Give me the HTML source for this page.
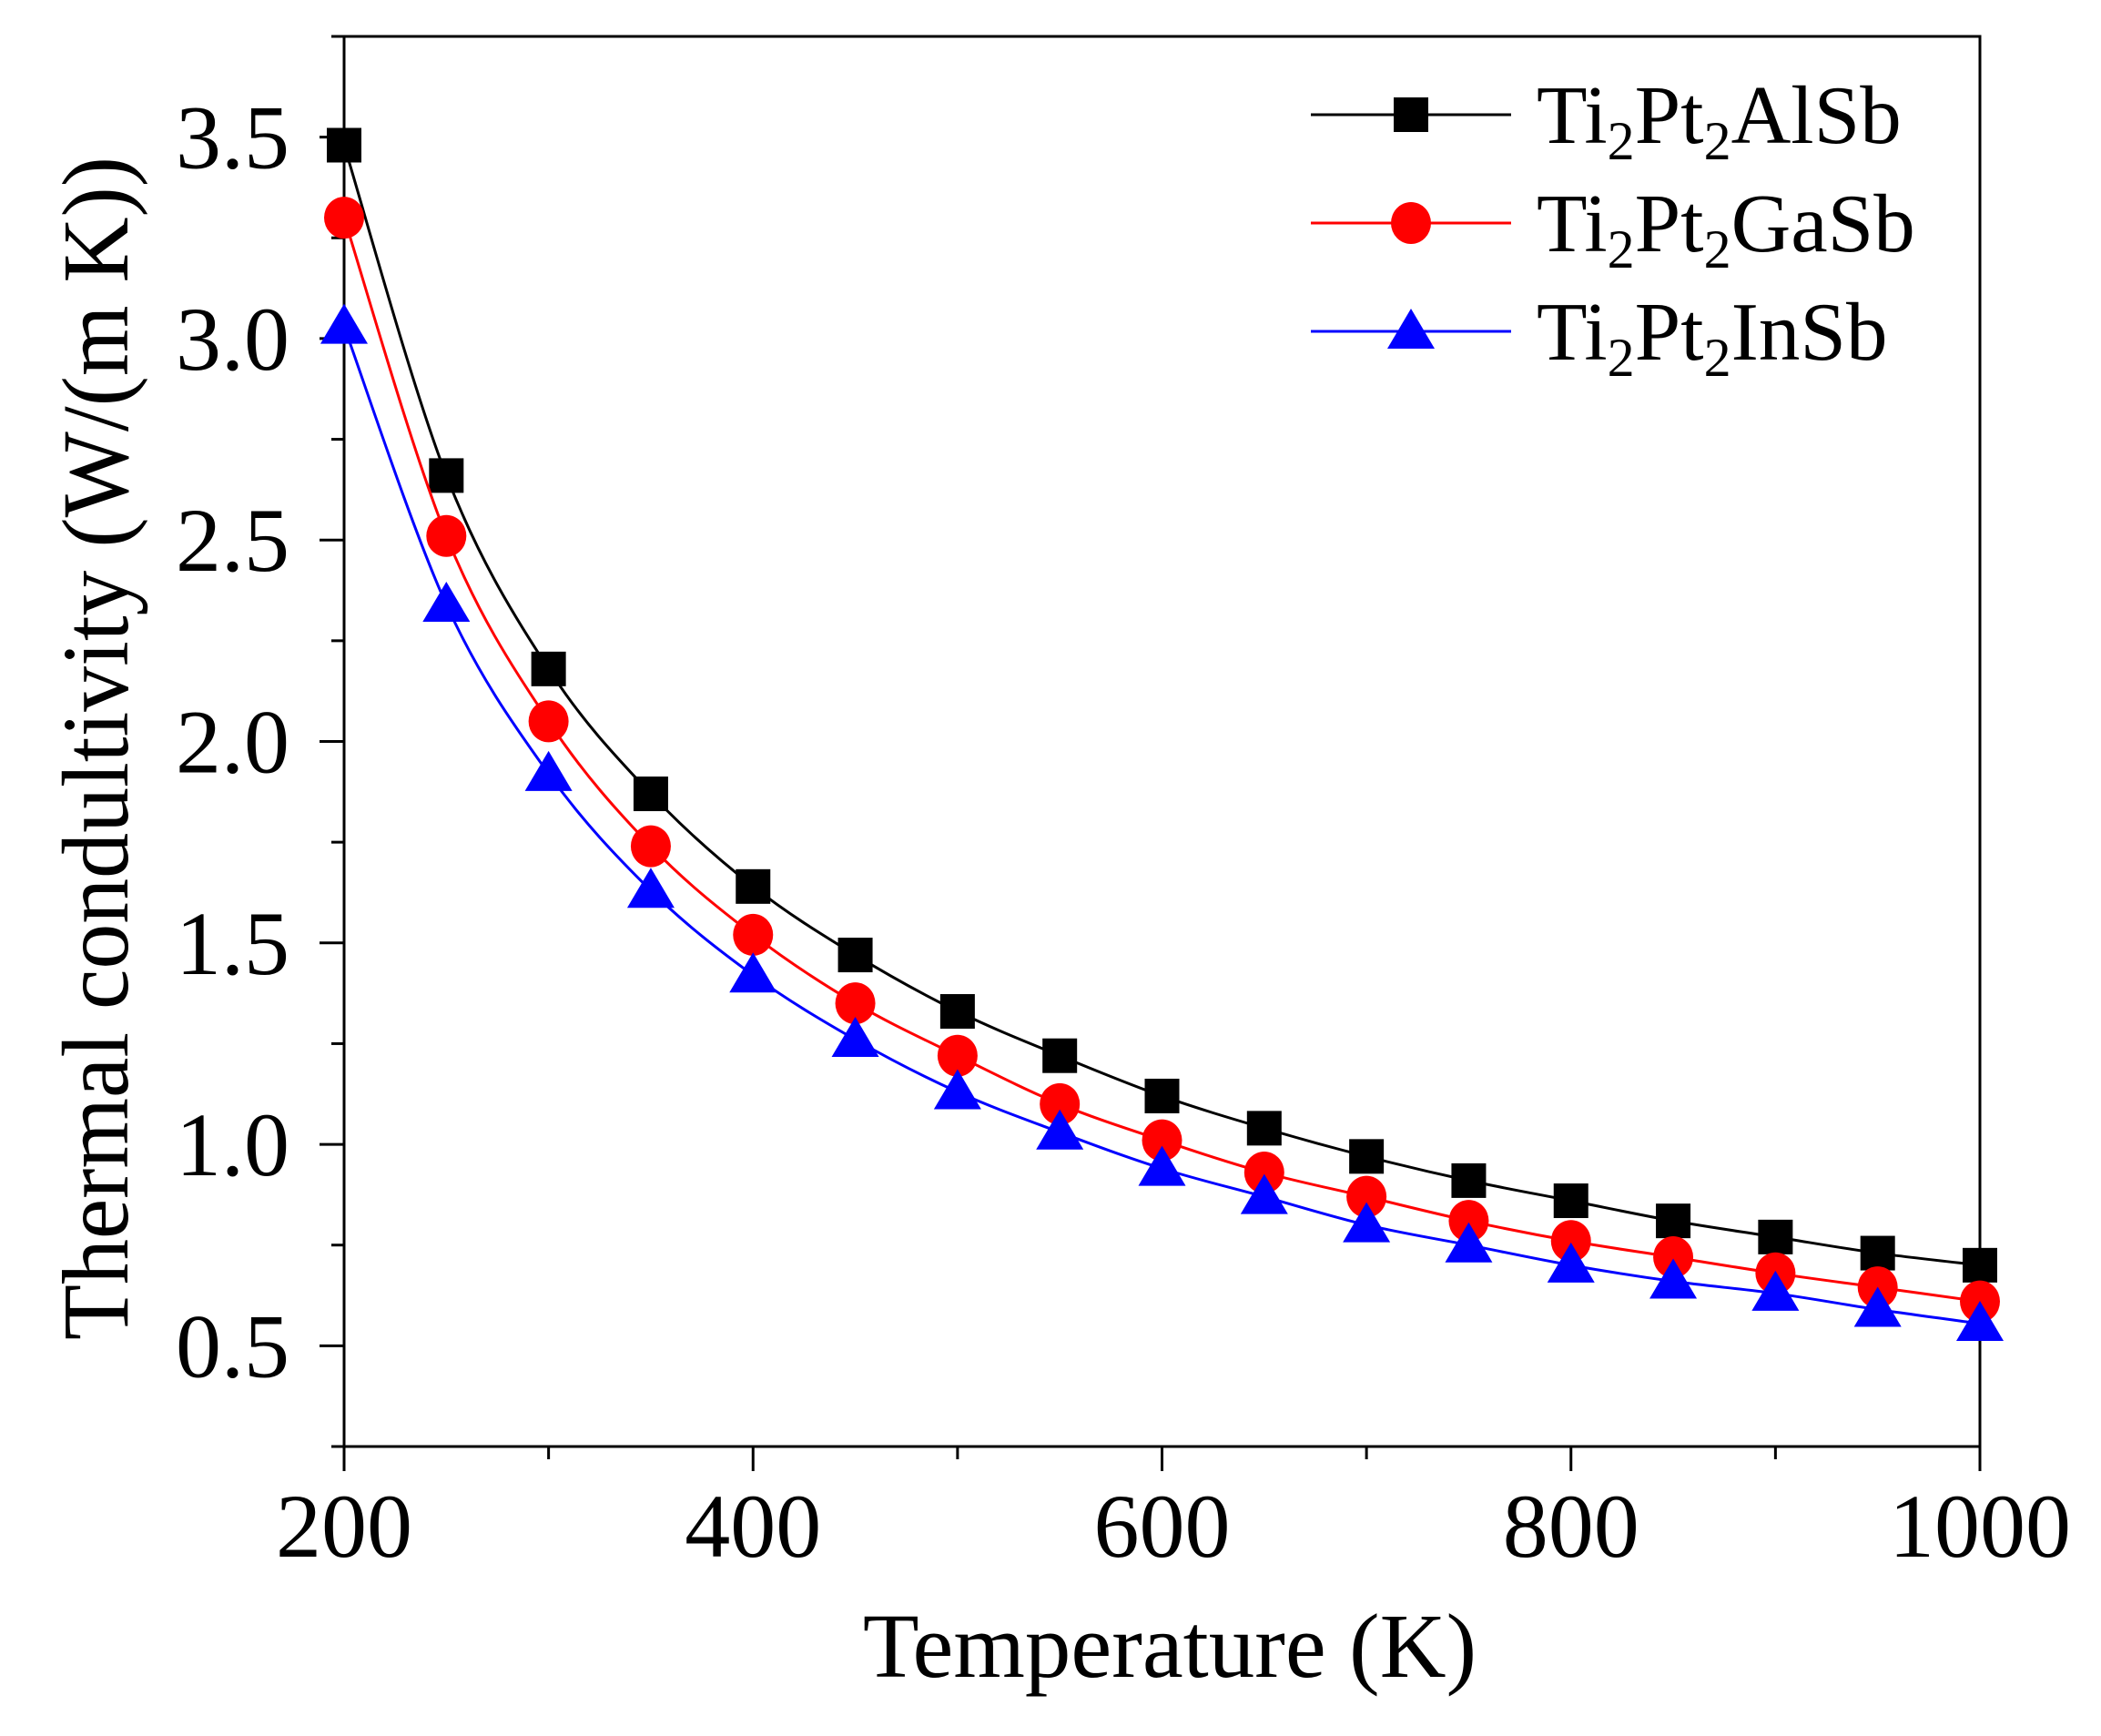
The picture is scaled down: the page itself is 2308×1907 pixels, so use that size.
<!DOCTYPE html>
<html><head><meta charset="utf-8"><style>
html,body{margin:0;padding:0;background:#fff;}
svg{display:block;font-family:"Liberation Serif","Times New Roman",serif;}
</style></head><body>
<svg id="chart" width="2308" height="1907" viewBox="0 0 2308 1907" xmlns="http://www.w3.org/2000/svg">
<rect width="2308" height="1907" fill="#fff"/>
<g id="axes"></g>
<g id="series"></g>
<g id="legend"></g>
<text x="1285" y="1842" font-size="101" text-anchor="middle">Temperature (K)</text>
<text transform="translate(140,822) rotate(-90)" font-size="104" text-anchor="middle" textLength="1300" lengthAdjust="spacingAndGlyphs">Thermal condultivity (W/(m K))</text>
</svg>
<script>
const temps = [200,250,300,350,400,450,500,550,600,650,700,750,800,850,900,950,1000];
const alSb = [3.48,2.66,2.18,1.87,1.64,1.47,1.33,1.22,1.12,1.04,0.97,0.91,0.86,0.81,0.77,0.73,0.70];
const gaSb = [3.30,2.51,2.05,1.74,1.52,1.35,1.22,1.10,1.01,0.93,0.87,0.81,0.76,0.72,0.68,0.645,0.61];
const inSb = [3.03,2.34,1.92,1.63,1.42,1.26,1.13,1.03,0.94,0.87,0.80,0.75,0.70,0.66,0.63,0.59,0.555];
const xTicks = [200,400,600,800,1000];
const xMinor = [300,500,700,900];
const yTicks = [0.5,1.0,1.5,2.0,2.5,3.0,3.5];
const yMinor = [0.25,0.75,1.25,1.75,2.25,2.75,3.25,3.75];
const yLabels = ["0.5","1.0","1.5","2.0","2.5","3.0","3.5"];

const NS="http://www.w3.org/2000/svg";
const L=378,R=2175,T=40,B=1589;
function X(t){return L+(t-200)/800*(R-L);}
function Y(v){return B-(v-0.25)/3.5*(B-T);}
function mk(tag,attrs,parent){const e=document.createElementNS(NS,tag);for(const k in attrs)e.setAttribute(k,attrs[k]);parent.appendChild(e);return e;}
const axes=document.getElementById('axes');
let frame=mk('path',{d:`M${L},${T}H${R}V${B}H${L}Z`,fill:'none',stroke:'#000','stroke-width':3},axes);


xTicks.forEach((t,i)=>{
  let tk=mk('line',{x1:X(t),x2:X(t),y1:B,y2:B+27,stroke:'#000','stroke-width':3},axes);
  
  
  let lb=mk('text',{x:X(t),y:1710,'font-size':100,'text-anchor':'middle'},axes);
  lb.textContent=String(t);
  
  
});
xMinor.forEach(t=>{
  let tk=mk('line',{x1:X(t),x2:X(t),y1:B,y2:B+14,stroke:'#000','stroke-width':3},axes);
  
  
});
yTicks.forEach((v,i)=>{
  let tk=mk('line',{x1:L-27,x2:L,y1:Y(v),y2:Y(v),stroke:'#000','stroke-width':3},axes);
  
  
  let lb=mk('text',{x:318,y:Y(v)+34,'font-size':100,'text-anchor':'end'},axes);
  lb.textContent=yLabels[i];
  
  
});
yMinor.forEach(v=>{
  let tk=mk('line',{x1:L-14,x2:L,y1:Y(v),y2:Y(v),stroke:'#000','stroke-width':3},axes);
  
  
});
function smooth(pts){
  let d=`M${pts[0][0]},${pts[0][1]}`;
  for(let i=0;i<pts.length-1;i++){
    const p0=pts[Math.max(0,i-1)],p1=pts[i],p2=pts[i+1],p3=pts[Math.min(pts.length-1,i+2)];
    const c1=[p1[0]+(p2[0]-p0[0])/6,p1[1]+(p2[1]-p0[1])/6];
    const c2=[p2[0]-(p3[0]-p1[0])/6,p2[1]-(p3[1]-p1[1])/6];
    d+=` C${c1[0]},${c1[1]} ${c2[0]},${c2[1]} ${p2[0]},${p2[1]}`;
  }
  return d;
}
function marker(type,cx,cy,color,parent){
  let e;
  if(type==='square') e=mk('rect',{x:cx-19,y:cy-19,width:38,height:38,fill:color},parent);
  else if(type==='circle') e=mk('ellipse',{cx:cx,cy:cy,rx:22,ry:23,fill:color},parent);
  else e=mk('path',{d:`M${cx},${cy-25}L${cx+26},${cy+19}L${cx-26},${cy+19}Z`,fill:color},parent);
  return e;
}
const seriesDefs=[
  {name:'alsb',vals:alSb,color:'#000',type:'square',label:'AlSb'},
  {name:'gasb',vals:gaSb,color:'#ff0000',type:'circle',label:'GaSb'},
  {name:'insb',vals:inSb,color:'#0000ff',type:'triangle',label:'InSb'}
];
const sg=document.getElementById('series');
seriesDefs.forEach(s=>{
  const g=mk('g',{},sg);
  
  
  const pts=temps.map((t,i)=>[X(t),Y(s.vals[i])]);
  const ln=mk('path',{d:smooth(pts),fill:'none',stroke:s.color,'stroke-width':3},g);
  
  
  pts.forEach(p=>{
    const m=marker(s.type,p[0],p[1],s.color,g);
    
    
  });
});
const lg=document.getElementById('legend');
seriesDefs.forEach((s,i)=>{
  const y=126+i*119;
  const g=mk('g',{},lg);
  
  
  mk('line',{x1:1440,x2:1660,y1:y,y2:y,stroke:s.color,'stroke-width':3},g);
  marker(s.type,1550,y,s.color,g);
  const t=mk('text',{x:1688,y:y+31,'font-size':91},g);
  t.innerHTML=`Ti<tspan font-size="60" dy="18">2</tspan><tspan dy="-18">Pt</tspan><tspan font-size="60" dy="18">2</tspan><tspan dy="-18">${s.label}</tspan>`;
});
</script>
</body></html>
